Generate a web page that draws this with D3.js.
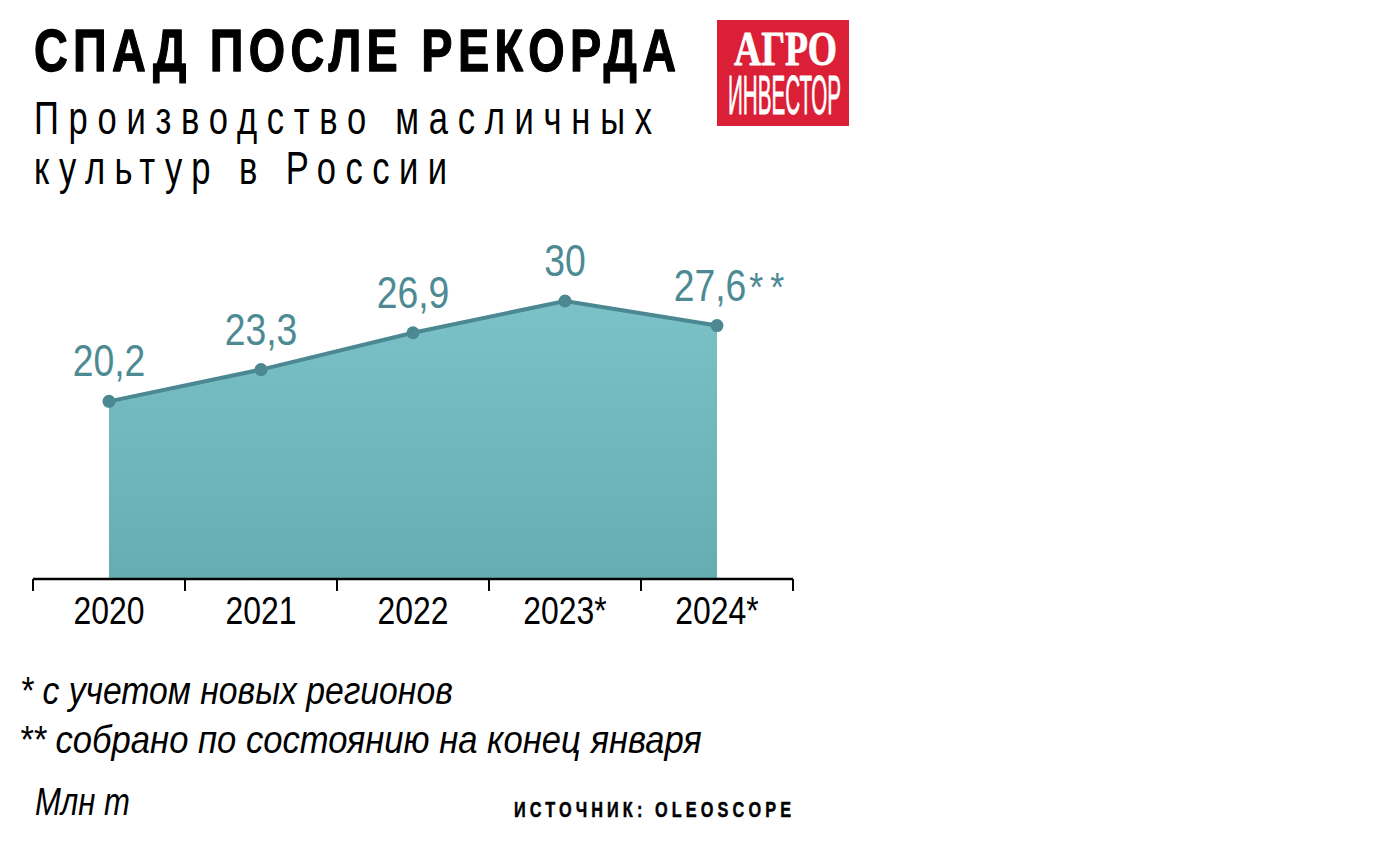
<!DOCTYPE html>
<html><head><meta charset="utf-8">
<script src="https://cdn.jsdelivr.net/npm/d3@7"></script>
<style>
html,body{margin:0;padding:0;background:#fff;}
svg{display:block;}
</style></head>
<body>
<svg id="chart" width="1379" height="841"></svg>
<script>
const years = ["2020","2021","2022","2023*","2024*"];
const values = [20.2, 23.3, 26.9, 30, 27.6];
const valueLabels = ["20,2","23,3","26,9","30","27,6"];
const labelSuffix = ["","","","","**"];
const title = "СПАД ПОСЛЕ РЕКОРДА";
const subtitle = ["Производство масличных","культур в России"];
const notes = ["* с учетом новых регионов","** собрано по состоянию на конец января"];
const unit = "Млн т";
const source = "ИСТОЧНИК: OLEOSCOPE";
const logoLines = ["АГРО","ИНВЕСТОР"];

const SANS = "'Liberation Sans',Arial,Helvetica,sans-serif";
const SERIF = "'Liberation Serif','DejaVu Serif',serif";
const svg = d3.select("#chart");

// condensed text helper: horizontal scale to mimic a condensed face
function ctext(parent, o) {
  const t = parent.append("text")
    .attr("font-family", o.family || SANS)
    .attr("font-size", o.size)
    .attr("font-weight", o.weight || "normal")
    .attr("font-style", o.style || "normal")
    .attr("fill", o.fill || "#000")
    .text(o.text);
  if (o.stroke) t.attr("stroke", o.fill || "#000").attr("stroke-width", o.stroke).attr("stroke-linejoin","round");
  const natural = t.node().getComputedTextLength();
  let sx = o.sx;
  if (o.width && !sx) sx = o.width / natural;
  if (o.width && o.sx) t.attr("textLength", o.width / sx).attr("lengthAdjust", "spacing");
  t.attr("text-anchor", o.anchor || "start")
   .attr("transform", `translate(${o.x},${o.y}) scale(${sx},1)`);
  return t;
}

const x = d3.scaleBand().domain(years).range([33, 793]);
const y = d3.scaleLinear().domain([2.85, 30]).range([579, 301]);

const defs = svg.append("defs");
const grad = defs.append("linearGradient").attr("id","g").attr("x1",0).attr("y1",0).attr("x2",0).attr("y2",1);
grad.append("stop").attr("offset","0%").attr("stop-color","#7ac2c7");
grad.append("stop").attr("offset","100%").attr("stop-color","#67acb3");

const data = years.map((d,i)=>({year:d, v:values[i], lab:valueLabels[i], suf:labelSuffix[i]}));
const cx = d => x(d.year) + x.bandwidth()/2;

const area = d3.area().x(cx).y0(y(2.85)).y1(d=>y(d.v));
svg.append("path").datum(data).attr("d",area).attr("fill","url(#g)");

const line = d3.line().x(cx).y(d=>y(d.v));
svg.append("path").datum(data).attr("d",line).attr("fill","none").attr("stroke","#4b8891").attr("stroke-width",4);

svg.selectAll("circle.pt").data(data).enter().append("circle")
  .attr("cx",cx).attr("cy",d=>y(d.v)).attr("r",6.5).attr("fill","#4b8891");

// value labels
data.forEach(d => {
  const shift = d.suf ? -7 : 0;
  const t = ctext(svg, {x: cx(d)+shift, y: y(d.v)-25, anchor:"middle", size:45, sx:0.83, fill:"#4d8a93", text:d.lab});
  if (d.suf) {
    const w = t.node().getComputedTextLength()*0.83;
    ctext(svg, {x: cx(d)+shift+w/2+3, y: y(d.v)-25, size:40, sx:0.9, fill:"#4d8a93", text:d.suf, width:35});
  }
});

// axis
const ax = svg.append("g").attr("transform","translate(0,579)");
ax.append("line").attr("x1",33).attr("x2",793).attr("stroke","#000").attr("stroke-width",2.5);
const tickX = years.map(d=>x(d)).concat([x.range()[1]]);
ax.selectAll("line.tk").data(tickX).enter().append("line")
  .attr("x1",d=>d).attr("x2",d=>d).attr("y1",0).attr("y2",12).attr("stroke","#000").attr("stroke-width",2);
years.forEach(d => {
  ctext(ax, {x: x(d)+x.bandwidth()/2, y: 45, anchor:"middle", size:38, sx:0.84, text:d});
});

// title & subtitle
ctext(svg, {x:34, y:71, size:60, weight:"bold", sx:0.78, width:642, stroke:1.3, text:title});
ctext(svg, {x:34, y:134, size:45.5, sx:0.76, width:618, text:subtitle[0]});
ctext(svg, {x:34, y:184, size:45.5, sx:0.76, width:413, text:subtitle[1]});

// logo
const logo = svg.append("g");
logo.append("rect").attr("x",717).attr("y",20).attr("width",132).attr("height",106).attr("fill","#da1f36");
ctext(logo, {x:734, y:64.5, size:48, weight:"bold", family:SERIF, fill:"#fff", width:103, stroke:0.8, text:logoLines[0]});
ctext(logo, {x:728, y:114, size:56, fill:"#fff", width:113, stroke:0.8, text:logoLines[1]});

// notes
ctext(svg, {x:20, y:704, size:38, style:"italic", width:433, text:notes[0]});
ctext(svg, {x:19, y:753, size:38, style:"italic", width:683, text:notes[1]});
ctext(svg, {x:35, y:815, size:38, style:"italic", width:95, text:unit});
ctext(svg, {x:514, y:817, size:22, weight:"bold", sx:0.74, width:277, stroke:0.5, text:source});
</script>
</body></html>
